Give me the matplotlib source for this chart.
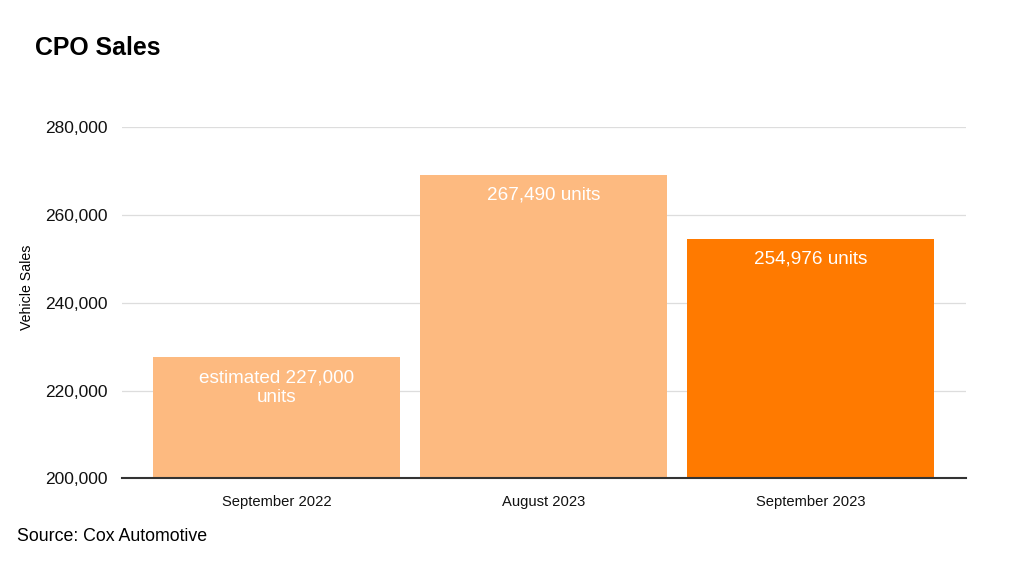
import matplotlib
matplotlib.use("Agg")
import matplotlib.pyplot as plt
from matplotlib.ticker import FuncFormatter

# Datos del gráfico
periodos = ['September 2022', 'August 2023', 'September 2023']
ventas = [227600, 269200, 254500]
etiquetas = ['estimated 227,000\nunits', '267,490 units', '254,976 units']
colores = ['#FDBA80', '#FDBA80', '#FF7A00']

plt.rcParams['font.family'] = ['Liberation Sans', 'DejaVu Sans']

fig = plt.figure(figsize=(10.24, 5.65), dpi=100)
ax = fig.add_axes([0.119, 0.1534, 0.824, 0.6213])

x = range(len(periodos))
barras = ax.bar(x, ventas, width=0.925, color=colores, zorder=2)

for b, txt in zip(barras, etiquetas):
    ax.annotate(txt, (b.get_x() + b.get_width() / 2, b.get_height()),
                xytext=(0, -8.5), textcoords='offset points',
                ha='center', va='top', color='white', fontsize=13.6,
                linespacing=1.25, zorder=3)

ax.set_ylim(200000, 280000)
ax.set_xlim(-0.58, 2.58)
ax.set_yticks([200000, 220000, 240000, 260000, 280000])
ax.yaxis.set_major_formatter(FuncFormatter(lambda v, p: f'{int(v):,}'))
ax.set_xticks(list(x))
ax.set_xticklabels(periodos)

ax.grid(axis='y', color='#dddddd', linewidth=0.9, zorder=0)
ax.set_axisbelow(True)
for s in ['top', 'right', 'left']:
    ax.spines[s].set_visible(False)
ax.spines['bottom'].set_color('#333333')
ax.spines['bottom'].set_linewidth(1.5)
ax.spines['bottom'].set_zorder(4)

ax.tick_params(axis='y', length=0, pad=10, labelsize=12.5, labelcolor='#111111')
ax.tick_params(axis='x', length=0, pad=12, labelsize=10.6, labelcolor='#111111')

ax.set_ylabel('Vehicle Sales', fontsize=10.2)
ax.yaxis.set_label_coords(-0.104, 0.543)

fig.text(0.034, 0.915, 'CPO Sales', fontsize=17.9, fontweight='bold', va='center', ha='left')
fig.text(0.017, 0.051, 'Source: Cox Automotive', fontsize=12.8, va='center', ha='left')

fig.savefig('out.png', dpi=100, facecolor='white')
